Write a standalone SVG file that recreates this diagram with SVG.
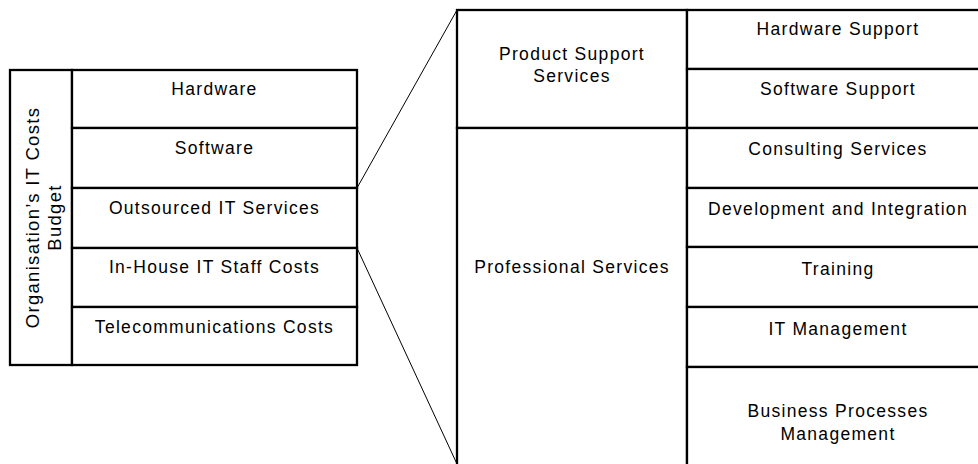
<svg xmlns="http://www.w3.org/2000/svg" width="978" height="464" viewBox="0 0 978 464">
<style>
.box{fill:#fff;stroke:#000;stroke-width:2.3}
.ln{stroke:#000;stroke-width:2.3;fill:none}
.con{stroke:#000;stroke-width:1;fill:none}
text{font-family:"Liberation Sans",Arial,sans-serif;font-size:17.5px;letter-spacing:1.3px;fill:#000;text-anchor:middle}
.vt{font-size:18.5px;letter-spacing:1.3px}
</style>
<rect width="978" height="464" fill="#fff"/>
<g id="budget">
<rect class="box" x="10" y="70" width="62" height="295"/>
<text class="vt" transform="translate(41,217.5) rotate(-90)"><tspan x="0" y="-2">Organisation’s IT Costs</tspan><tspan x="0" y="20">Budget</tspan></text>
</g>
<g id="hardware"><rect class="box" x="72" y="70" width="285" height="58"/><text x="214.5" y="95">Hardware</text></g>
<g id="software"><rect class="box" x="72" y="128" width="285" height="60"/><text x="214.5" y="154">Software</text></g>
<g id="outsourced"><rect class="box" x="72" y="188" width="285" height="60"/><text x="214.5" y="214">Outsourced IT Services</text></g>
<g id="inhouse"><rect class="box" x="72" y="248" width="285" height="59"/><text x="214.5" y="273">In-House IT Staff Costs</text></g>
<g id="telecom"><rect class="box" x="72" y="307" width="285" height="58"/><text x="214.5" y="333">Telecommunications Costs</text></g>
<g id="connectors">
<line class="con" x1="357" y1="188" x2="457" y2="10"/>
<line class="con" x1="357" y1="248" x2="457" y2="464"/>
</g>
<g id="product-support"><rect class="box" x="457" y="10" width="230" height="118"/><text x="572" y="60">Product Support</text><text x="572" y="82">Services</text></g>
<g id="professional"><rect class="box" x="457" y="128" width="230" height="360"/><text x="572" y="273">Professional Services</text></g>
<g id="hw-support"><rect class="box" x="687" y="10" width="302" height="59"/><text x="838" y="35">Hardware Support</text></g>
<g id="sw-support"><rect class="box" x="687" y="69" width="302" height="59"/><text x="838" y="95">Software Support</text></g>
<g id="consulting"><rect class="box" x="687" y="128" width="302" height="60"/><text x="838" y="155">Consulting Services</text></g>
<g id="development"><rect class="box" x="687" y="188" width="302" height="59"/><text x="838" y="215">Development and Integration</text></g>
<g id="training"><rect class="box" x="687" y="247" width="302" height="60"/><text x="838" y="275">Training</text></g>
<g id="it-management"><rect class="box" x="687" y="307" width="302" height="60"/><text x="838" y="335">IT Management</text></g>
<g id="bpm"><rect class="box" x="687" y="367" width="302" height="121"/><text x="838" y="417">Business Processes</text><text x="838" y="440">Management</text></g>
</svg>
